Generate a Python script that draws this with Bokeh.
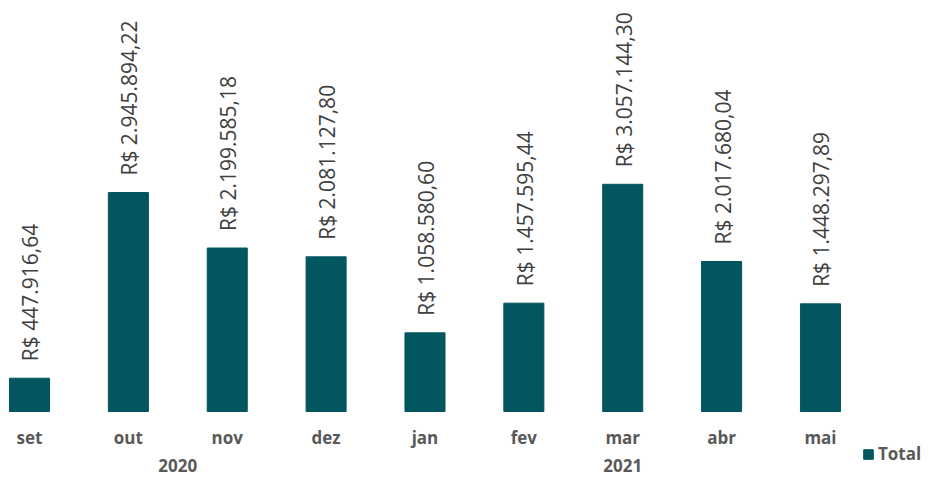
import math
from bokeh.plotting import figure
from bokeh.models import Range1d, ColumnDataSource, Legend, LegendItem
from bokeh.core.properties import value
from bokeh.embed import file_html
from bokeh.resources import INLINE

# ---- data ----
months = ["set", "out", "nov", "dez", "jan", "fev", "mar", "abr", "mai"]
month_year = ["2020", "2020", "2020", "2020", "2021", "2021", "2021", "2021", "2021"]
years = ["2020", "2021"]
totals = [447916.64, 2945894.22, 2199585.18, 2081127.80, 1058580.60,
          1457595.44, 3057144.30, 2017680.04, 1448297.89]
series_name = "Total"


def brl(v):
    s = f"{v:,.2f}".replace(",", "X").replace(".", ",").replace("X", ".")
    return "R$ " + s


labels = [brl(v) for v in totals]
xs = list(range(len(months)))
year_pos = []
for y in years:
    idx = [i for i, yy in zip(xs, month_year) if yy == y]
    year_pos.append(sum(idx) / len(idx))

BAR = "#02565F"
TXT = "#595959"
FONT = "Open Sans"

src = ColumnDataSource(dict(x=xs, top=totals, label=labels, month=months,
                            base=[0] * len(xs)))
ysrc = ColumnDataSource(dict(x=year_pos, year=years, base=[0] * len(years)))

p = figure(width=922, height=479,
           x_range=Range1d(-0.2933, 9.032), y_range=Range1d(-0.915e6, 5.53e6),
           output_backend="svg", toolbar_location=None,
           x_axis_location=None, y_axis_location=None, min_border=0)
p.outline_line_color = None
p.grid.visible = False
p.background_fill_color = "white"

bars = p.vbar(x="x", top="top", width=0.405, source=src,
              fill_color=BAR, line_color=BAR)

# value labels
p.text(x="x", y="top", text="label", source=src, angle=math.pi / 2,
       text_align="left", text_baseline="middle", x_offset=1, y_offset=-17,
       text_font=value(FONT), text_font_size="21px", text_color="#404040")

# month labels (category axis)
p.text(x="x", y="base", text="month", source=src, y_offset=26,
       text_align="center", text_baseline="middle",
       text_font=value(FONT), text_font_size="17px", text_font_style="bold",
       text_color=TXT)

# year labels (group axis)
p.text(x="x", y="base", text="year", source=ysrc, y_offset=54,
       text_align="center", text_baseline="middle",
       text_font=value(FONT), text_font_size="17px", text_font_style="bold",
       text_color=TXT)

legend = Legend(items=[LegendItem(label=series_name, renderers=[bars])],
                location=(862, 14), glyph_width=12, glyph_height=12,
                label_standoff=4, padding=0, margin=0, spacing=0,
                label_text_font=FONT, label_text_font_size="17px",
                label_text_font_style="bold", label_text_color=TXT,
                background_fill_alpha=0, border_line_color=None)
p.add_layout(legend)

open("out.html", "w").write(file_html(p, INLINE))
